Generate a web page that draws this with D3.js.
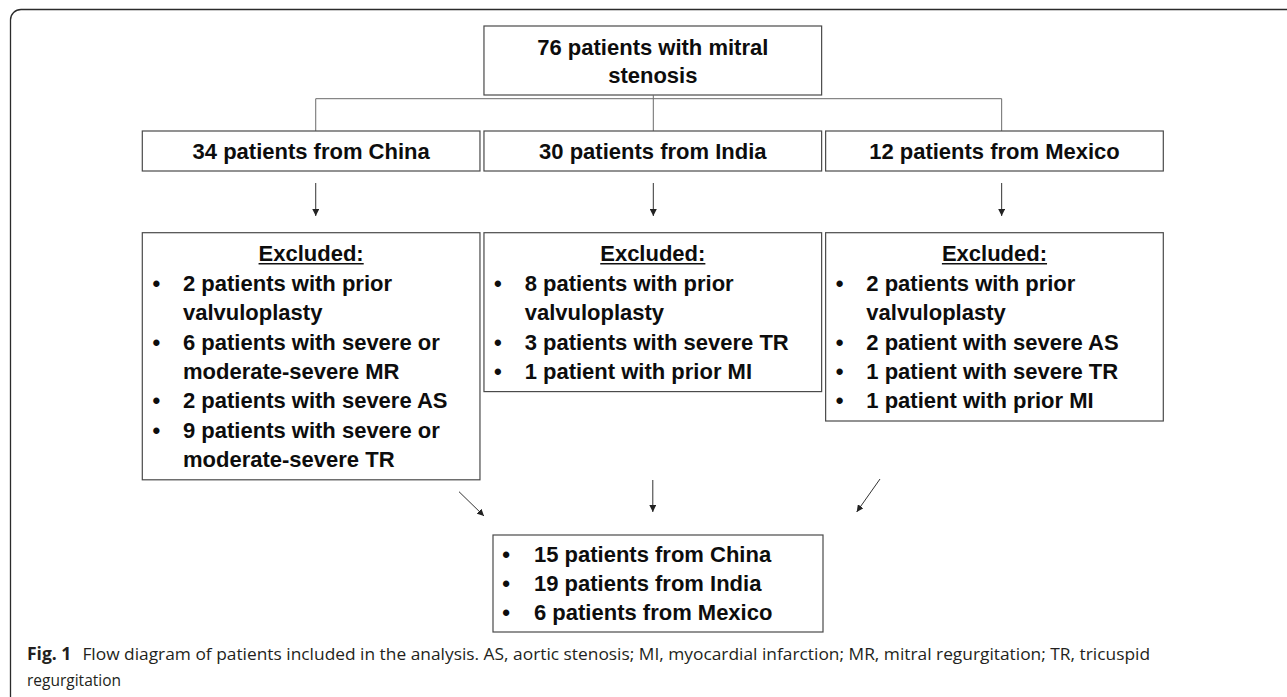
<!DOCTYPE html>
<html lang="en">
<head>
<meta charset="utf-8">
<title>Flow diagram</title>
<script src="https://d3js.org/d3.v7.min.js"></script>
<style>
  body { margin: 0; background: #fff; }
  svg { display: block; }
  .box { fill: #fff; stroke: #4a4a4a; stroke-width: 1.2; }
  .link { fill: none; stroke: #6b6b6b; stroke-width: 1; }
  .arrow { fill: none; stroke: #333; stroke-width: 1; }
  .lbl { font-family: "Liberation Sans", Arial, sans-serif; font-weight: bold; font-size: 22px; fill: #0d0d0d; }
  .cap { font-family: "Open Sans", "Noto Sans", sans-serif; font-size: 15.5px; fill: #231f20; }
  .cap.fig { font-weight: bold; font-size: 17.5px; }
</style>
</head>
<body>
<script>
// ---- data ----
var topLabel = ["76 patients with mitral", "stenosis"];
var countries = ["China", "India", "Mexico"];
var enrolled = [34, 30, 12];
var excludedTitle = "Excluded:";
// each exclusion reason, already broken into the lines of the original
var exclusions = [
  [["2 patients with prior", "valvuloplasty"],
   ["6 patients with severe or", "moderate-severe MR"],
   ["2 patients with severe AS"],
   ["9 patients with severe or", "moderate-severe TR"]],
  [["8 patients with prior", "valvuloplasty"],
   ["3 patients with severe TR"],
   ["1 patient with prior MI"]],
  [["2 patients with prior", "valvuloplasty"],
   ["2 patient with severe AS"],
   ["1 patient with severe TR"],
   ["1 patient with prior MI"]]
];
var included = [15, 19, 6];
var captionBold = "Fig. 1";
var captionLines = [
  "Flow diagram of patients included in the analysis. AS, aortic stenosis; MI, myocardial infarction; MR, mitral regurgitation; TR, tricuspid",
  "regurgitation"
];

// ---- layout ----
var width = 1287, height = 697;
var lineH = 29.4;

var svg = d3.select("body").append("svg")
    .attr("width", width)
    .attr("height", height);

svg.append("defs").append("marker")
    .attr("id", "head")
    .attr("viewBox", "0 0 10 10")
    .attr("refX", 10).attr("refY", 5)
    .attr("markerUnits", "userSpaceOnUse")
    .attr("markerWidth", 7).attr("markerHeight", 7)
    .attr("orient", "auto")
  .append("path")
    .attr("d", "M0,0L10,5L0,10z")
    .attr("fill", "#222");

// outer frame (rounded top-left corner, open to right and bottom)
svg.append("path")
    .attr("d", "M" + width + ",9.5H21A10.5,10.5 0 0 0 10.5,20V" + height)
    .attr("fill", "none")
    .attr("stroke", "#2b2b2b")
    .attr("stroke-width", 1.3);

var x = d3.scaleBand()
    .domain(countries)
    .range([142.3, 1163.3])
    .paddingInner(0.0117);
var bw = x.bandwidth();
var cx = function(c) { return x(c) + bw / 2; };
// the connector drops are not exactly on the box centres in the original
var dropShift = { China: 4.6, India: 0.5, Mexico: 7.2 };

// top box
var topG = svg.append("g");
topG.append("rect").attr("class", "box")
    .attr("x", x("India")).attr("y", 26)
    .attr("width", bw).attr("height", 69);
topG.selectAll("text").data(topLabel).join("text")
    .attr("class", "lbl")
    .attr("x", cx("India"))
    .attr("y", function(d, i) { return 55 + i * 28.3; })
    .attr("text-anchor", "middle")
    .text(function(d) { return d; });

// split connector
var yBus = 98.7, yCountry = 131;
svg.append("path").attr("class", "link")
    .attr("d", "M" + (cx("India") + dropShift.India) + ",95V" + yBus);
svg.append("path").attr("class", "link")
    .attr("d", "M" + (cx("China") + dropShift.China) + "," + yCountry + "V" + yBus +
               "H" + (cx("Mexico") + dropShift.Mexico) + "V" + yCountry);
svg.append("path").attr("class", "link")
    .attr("d", "M" + (cx("India") + dropShift.India) + "," + yBus + "V" + yCountry);

// country boxes
var cg = svg.selectAll("g.country").data(countries).join("g").attr("class", "country");
cg.append("rect").attr("class", "box")
    .attr("x", function(d) { return x(d); }).attr("y", yCountry)
    .attr("width", bw).attr("height", 40);
cg.append("text").attr("class", "lbl")
    .attr("x", function(d) { return cx(d); })
    .attr("y", 159.3)
    .attr("text-anchor", "middle")
    .text(function(d, i) { return enrolled[i] + " patients from " + d; });
cg.append("path").attr("class", "arrow")
    .attr("marker-end", "url(#head)")
    .attr("d", function(d) { return "M" + (cx(d) + dropShift[d]) + ",183V216"; });

// exclusion boxes
var yEx = 232.7, firstBase = 261.3;
countries.forEach(function(c, i) {
  var lines = [];
  exclusions[i].forEach(function(item) {
    item.forEach(function(t, j) { lines.push({ text: t, bullet: j === 0 }); });
  });
  var g = svg.append("g");
  var lastBase = firstBase + lines.length * lineH;
  g.append("rect").attr("class", "box")
      .attr("x", x(c)).attr("y", yEx)
      .attr("width", bw).attr("height", lastBase + 12.7 - yEx);
  var title = g.append("text").attr("class", "lbl")
      .attr("x", cx(c)).attr("y", firstBase)
      .attr("text-anchor", "middle")
      .text(excludedTitle);
  var tw = title.node().getComputedTextLength();
  g.append("line")
      .attr("x1", cx(c) - tw / 2).attr("x2", cx(c) + tw / 2)
      .attr("y1", firstBase + 2.5).attr("y2", firstBase + 2.5)
      .attr("stroke", "#111").attr("stroke-width", 1.6);
  g.selectAll("text.item").data(lines).join("text")
      .attr("class", "lbl item")
      .attr("x", x(c) + 40.7)
      .attr("y", function(d, k) { return firstBase + (k + 1) * lineH; })
      .text(function(d) { return d.text; });
  g.selectAll("text.bul").data(lines.filter(function(d) { return d.bullet; })).join("text")
      .attr("class", "lbl bul")
      .attr("x", x(c) + 14)
      .attr("y", function(d) { return firstBase + (lines.indexOf(d) + 1) * lineH; })
      .attr("text-anchor", "middle")
      .text("\u2022");
});

// arrows into the final box
var finalBox = { x: 493, y: 535, w: 330, h: 97 };
var joins = [
  [[459, 491.7], [484, 516]],
  [[cx("India"), 480], [cx("India"), 512]],
  [[880, 479], [856.7, 512]]
];
svg.selectAll("path.join").data(joins).join("path")
    .attr("class", "arrow join")
    .attr("marker-end", "url(#head)")
    .attr("d", function(d) { return d3.line()(d); });

// final box
var fg = svg.append("g");
fg.append("rect").attr("class", "box")
    .attr("x", finalBox.x).attr("y", finalBox.y)
    .attr("width", finalBox.w).attr("height", finalBox.h);
var fBase = d3.scaleLinear().domain([0, included.length - 1]).range([561.5, 619.5]);
fg.selectAll("text.item").data(included).join("text")
    .attr("class", "lbl item")
    .attr("x", finalBox.x + 41)
    .attr("y", function(d, i) { return fBase(i); })
    .text(function(d, i) { return d + " patients from " + countries[i]; });
fg.selectAll("text.bul").data(included).join("text")
    .attr("class", "lbl bul")
    .attr("x", finalBox.x + 13)
    .attr("y", function(d, i) { return fBase(i); })
    .attr("text-anchor", "middle")
    .text("\u2022");

// caption
var cap = svg.append("g");
var fig = cap.append("text").attr("class", "cap fig")
    .attr("x", 27).attr("y", 660)
    .text(captionBold);
var c1x = 27 + fig.node().getComputedTextLength() + 11;
var c1 = cap.append("text").attr("class", "cap").attr("x", c1x).attr("y", 660).text(captionLines[0]);
cap.append("text").attr("class", "cap").attr("x", 27).attr("y", 686).text(captionLines[1]);
var natural = c1.node().getComputedTextLength();
if (Math.abs(natural - (1150 - c1x)) > 4) {
  c1.attr("textLength", 1150 - c1x).attr("lengthAdjust", "spacingAndGlyphs");
}
</script>
</body>
</html>
